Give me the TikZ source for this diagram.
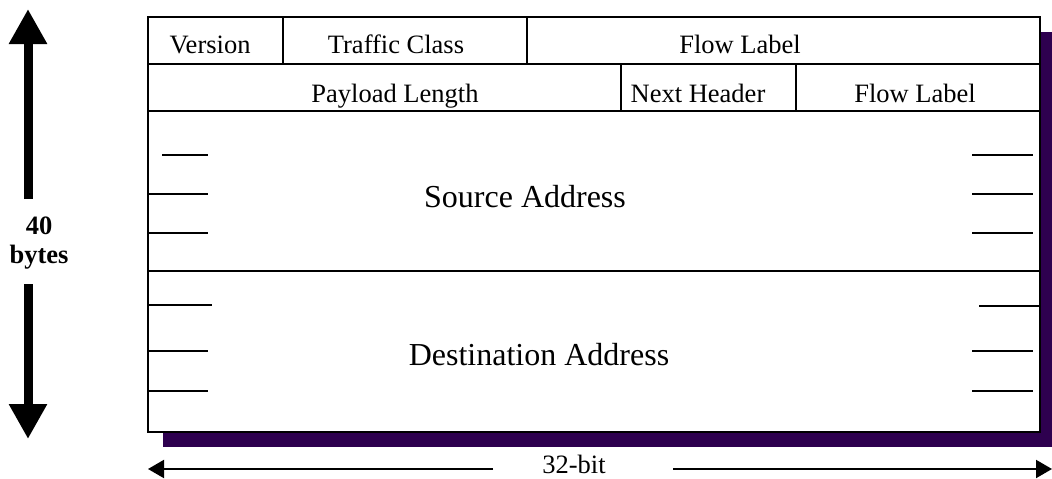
\documentclass[tikz,border=0pt]{standalone}
\usepackage{fontspec}
\setmainfont{Liberation Serif}
\usetikzlibrary{arrows.meta}
\definecolor{shadowpurple}{HTML}{2E004F}
\begin{document}
\begin{tikzpicture}[x=1pt,y=-1pt,
  cell/.style={draw, line width=2pt, fill=white, inner sep=0pt, outer sep=0pt, anchor=north west},
  lbl/.style={font=\fontsize{26.5}{30}\selectfont, anchor=base, inner sep=0pt},
  boldlbl/.style={font=\fontsize{26.5}{30}\selectfont\bfseries, anchor=base, inner sep=0pt},
  big/.style={font=\fontsize{32}{36}\selectfont, anchor=base, inner sep=0pt},
  tick/.style={line width=2pt},
  bigarrow/.style={line width=9pt, -{Triangle[width=36pt,length=35pt]}},
  smallarrow/.style={line width=2pt, -{Triangle[width=18pt,length=16pt]}}]
\useasboundingbox (0,0) rectangle (1052,479);
% shadow
\fill[shadowpurple] (163,32) rectangle (1056,447);
% cells
\node[cell, minimum width=135pt, minimum height=47pt] (ver) at (148,17) {};
\node[cell, minimum width=244pt, minimum height=47pt] (tc) at (283,17) {};
\node[cell, minimum width=513pt, minimum height=47pt] (fl1) at (527,17) {};
\node[cell, minimum width=473pt, minimum height=47pt] (pl) at (148,64) {};
\node[cell, minimum width=175pt, minimum height=47pt] (nh) at (621,64) {};
\node[cell, minimum width=244pt, minimum height=47pt] (fl2) at (796,64) {};
\node[cell, minimum width=892pt, minimum height=160pt] (src) at (148,111) {};
\node[cell, minimum width=892pt, minimum height=161pt] (dst) at (148,271) {};
% labels
\node[lbl] (tver) at (210,53) {Version};
\node[lbl] (ttc) at (396,53) {Traffic Class};
\node[lbl] (tfl1) at (740,53) {Flow Label};
\node[lbl] (tpl) at (395,102) {Payload Length};
\node[lbl] (tnh) at (698,102) {Next Header};
\node[lbl] (tfl2) at (915,102) {Flow Label};
\node[big] (tsrc) at (525,207) {Source Address};
\node[big] (tdst) at (539,365) {Destination Address};
% ticks left
\draw[tick] (162,155) -- (208,155);
\draw[tick] (148,194) -- (208,194);
\draw[tick] (148,233) -- (208,233);
\draw[tick] (148,305) -- (212,305);
\draw[tick] (148,351) -- (208,351);
\draw[tick] (148,391) -- (208,391);
% ticks right
\draw[tick] (972,155) -- (1033,155);
\draw[tick] (972,194) -- (1033,194);
\draw[tick] (972,233) -- (1033,233);
\draw[tick] (979,306) -- (1040,306);
\draw[tick] (972,351) -- (1033,351);
\draw[tick] (972,391) -- (1033,391);
% 40 bytes
\node[boldlbl] (n40) at (39,234) {40};
\node[boldlbl] (nbytes) at (39,263) {bytes};
\coordinate (upstart) at (28,199);
\coordinate (uptip) at (28,9);
\coordinate (dnstart) at (28,284);
\coordinate (dntip) at (28,439);
\draw[bigarrow] (upstart) -- (uptip);
\draw[bigarrow] (dnstart) -- (dntip);
% 32-bit
\node[lbl, text depth=0pt] (bits) at (574,473) {32-bit};
\coordinate (lstart) at (493,469);
\coordinate (ltip) at (148,469);
\coordinate (rstart) at (673,469);
\coordinate (rtip) at (1052,469);
\draw[smallarrow] (lstart) -- (ltip);
\draw[smallarrow] (rstart) -- (rtip);
\end{tikzpicture}
\end{document}
